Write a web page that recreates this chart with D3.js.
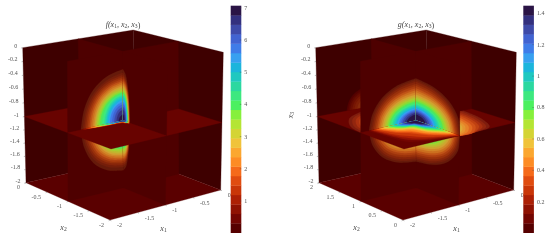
<!DOCTYPE html>
<html>
<head>
<meta charset="utf-8">
<script src="https://cdnjs.cloudflare.com/ajax/libs/d3/7.8.5/d3.min.js"></script>
<style>
  html, body { margin: 0; background: #fff; }
  svg { display: block; font-family: "Liberation Serif", serif; }
</style>
</head>
<body>
<div id="chart"></div>
<script>
// colour bands, bottom to top of the bar
var bandColors = ["#560000","#730602","#8f1203","#ad2005","#c93608","#e04c10","#f56a1a","#fd8c25",
  "#fba730","#f0c33a","#d4d435","#b4e534","#86f03c","#4cf060","#3de87f","#2bd8a0",
  "#1fc8c0","#1cb5dc","#38a0f0","#3f7ce8","#4163d1","#3e4aa8","#33307e","#2a1445"];

var f_ticks = [1,2,3,4,5,6,7];
var g_ticks = [0.2,0.4,0.6,0.8,1,1.2,1.4];
var x1_ticks = [-2,-1.5,-1,-0.5,0];
var x2_ticks_f = [0,-0.5,-1,-1.5,-2];
var x2_ticks_g = [2,1.5,1,0.5,0];
var x3_ticks = [0,-0.2,-0.4,-0.6,-0.8,-1,-1.2,-1.4,-1.6,-1.8,-2];

// contour extents per band (outer to inner), in data units from the slice centre
var f_side   = [.76,.73,.70,.67,.64,.61,.58,.55,.52,.50,.48,.45,.42,.38,.34,.31,.29,.26,.24,.20,.16,.12,.08];
var f_height = [.74,.69,.66,.63,.605,.58,.555,.53,.505,.48,.455,.43,.41,.39,.37,.35,.325,.30,.27,.24,.20,.16,.09];
var f_right  = [.15,.148,.146,.144,.142,.14,.135,.13,.125,.12,.115,.11,.105,.1,.095,.09,.085,.08,.075,.07,.06,.05,.03];
var f_diag   = [.09,.08,.07,.06,.05,.04,.035,.03,.025,.02,.018,.016,.014,.012,.01,.009,.008,.007,.006,.005,.004,.003,.002];

var g_side   = [.85,.82,.79,.76,.73,.70,.67,.64,.61,.58,.55,.52,.49,.46,.43,.40,.37,.34,.31,.28,.25,.21,.17];
var g_height = [.61,.585,.56,.53,.50,.47,.44,.41,.38,.355,.33,.305,.28,.255,.235,.215,.195,.18,.165,.15,.135,.115,.09];
var g_right  = [1.05,1.02,.99,.96,.93,.90,.87,.84,.80,.76,.72,.68,.63,.58,.54,.50,.46,.42,.39,.35,.31,.26,.21];
var g_diag   = [.75,.68,.62,.55,.45,.41,.37,.32,.29,.27,.25,.23,.21,.19,.17,.16,.15,.14,.13,.12,.11,.095,.08];
var g_lobe_left_a  = [1,.95,.9,.85,.8,.7,.6,.5,.42,.38,.35,.32,.3,.28,.26,.24,.22,.2,.18,.16,.14,.12,.1];
var g_lobe_left_b  = [.9,.85,.8,.75,.7,.6,.5,.42,.38,.35,.32,.3,.28,.26,.24,.22,.2,.18,.16,.14,.12,.11,.1];
var g_lobe_right_a = [.85,.8,.75,.7,.65,.6,.55,.5,.46,.42,.38,.35,.32,.3,.28,.26,.24,.22,.2,.18,.16,.13,.1];
var g_lobe_right_b = [1.3,1.25,1.2,1.15,1.1,1.05,1,.95,.9,.85,.8,.75,.7,.65,.6,.55,.5,.45,.4,.35,.3,.25,.19];
var g_wall_side   = [.47,.44,.41,.37,.33,.28];
var g_wall_height = [.32,.29,.26,.23,.20,.16];

// quarter outline used for each contour band
var unitArc = [[1,0],[.92,.38],[.71,.71],[.38,.92],[0,1]];

// screen position of the eight cube corners [x1 end, x2 end, x3 end]
var cubeCorners = {
  "000":[110,220], "100":[220.7,190], "010":[26,182.7], "110":[137,158],
  "001":[112,75],  "101":[223.3,52.3],"011":[22.7,47.7],"111":[133.3,30]
};

var svg = d3.select("#chart").append("svg")
    .attr("width",550)
    .attr("height",240)
    .style("filter","blur(0.35px)");

var tickColor = "#555";
var arcLine = d3.line().curve(d3.curveCatmullRom);
// the vertical slices read darker and browner in the low bands
function tone(c, i) {
  return d3.interpolateRgb(c,"#5a2a10")(Math.max(0,(1-(i+1)/14)*.6));
}
function lobeTone(c) { return d3.interpolateRgb(c,"#a06030")(.25); }

function mathLabel(g, x, y, head, subs, tail, size) {
  // italic name with subscript digits
  var t = g.append("text").attr("x",x).attr("y",y)
    .attr("text-anchor","middle").attr("fill","#444")
    .style("font-size",size+"px").style("font-style","italic");
  t.append("tspan").text(head);
  subs.forEach(function(s,i) {
    t.append("tspan").text("x");
    t.append("tspan").attr("dy",1.3).style("font-size",(size*0.7)+"px").style("font-style","normal").text(s);
    t.append("tspan").attr("dy",-1.3).text(i < subs.length-1 ? ", " : "");
  });
  t.append("tspan").style("font-style","normal").text(tail);
  return t;
}

function drawCube(dx, p) {
  var g = svg.append("g").attr("transform","translate("+dx+",0)");
  var x1 = d3.scaleLinear().domain([-2,0]).range([0,1]).clamp(true);
  var x2 = d3.scaleLinear().domain(p.x2Range).range([0,1]).clamp(true);
  var x3 = d3.scaleLinear().domain([-2,-1,0]).range([0,.49,1]).clamp(true);
  var front = p.x2Range[0], back = p.x2Range[1], mid = (front+back)/2;

  function P(a,b,c) {
    var u = x1(a), v = x2(b), w = x3(c), x = 0, y = 0;
    [0,1].forEach(function(i){ [0,1].forEach(function(j){ [0,1].forEach(function(k){
      var m = (i?u:1-u)*(j?v:1-v)*(k?w:1-w), q = cubeCorners[""+i+j+k];
      x += m*q[0]; y += m*q[1];
    }); }); });
    return [x,y];
  }
  function face(pts, fill) {
    g.append("path").attr("d","M"+pts.map(function(q){return P(q[0],q[1],q[2]);}).join("L")+"Z")
      .attr("fill",fill).attr("stroke",fill).attr("stroke-width",.3);
  }
  function bands(a, b, toPoint, paint) {
    a.forEach(function(ai,i) {
      var pts = unitArc.map(function(q){ return toPoint(ai*q[0], b[i]*q[1]); });
      var c = paint(bandColors[i+1], i);
      g.append("path").attr("d",arcLine(pts)+"L"+toPoint(0,0)+"Z")
        .attr("fill",c).attr("stroke",c).attr("stroke-width",.2);
    });
  }

  var wall = "#3e0000", slab = "#4e0000", floor = "#5a0000", plane = "#680300";

  // back walls and floor
  face([[-2,back,-2],[0,back,-2],[0,back,0],[-2,back,0]], wall);
  face([[0,back,-2],[0,front,-2],[0,front,0],[0,back,0]], wall);
  if (p.wallSide) {
    bands(p.wallSide, p.wallHeight, function(a,b){ return P(-1-a,back,-1+b); },
      function(c){ return d3.interpolateRgb(c,wall)(.6); });
  }
  face([[-2,front,-2],[0,front,-2],[0,back,-2],[-2,back,-2]], floor);

  // slices behind the cut corner
  face([[-1,mid,-2],[-1,back,-2],[-1,back,0],[-1,mid,0]], slab);
  face([[-1,mid,-2],[0,mid,-2],[0,mid,0],[-1,mid,0]], slab);

  // x3 slice, side quadrants
  face([[-2,mid,-1],[-1,mid,-1],[-1,back,-1],[-2,back,-1]], plane);
  face([[-1,front,-1],[0,front,-1],[0,mid,-1],[-1,mid,-1]], plane);
  if (p.lobeLeftA) {
    bands(p.lobeLeftA, p.lobeLeftB, function(a,b){ return P(-1-a,mid+b,-1); }, lobeTone);
    bands(p.lobeRightA, p.lobeRightB, function(a,b){ return P(-1+a,mid-b,-1); }, lobeTone);
  }

  // front faces of the cut corner, lower then upper
  [-1,1].forEach(function(sign) {
    face([[-2,mid,-1],[-1,mid,-1],[-1,mid,-1+sign],[-2,mid,-1+sign]], slab);
    face([[-1,front,-1],[-1,mid,-1],[-1,mid,-1+sign],[-1,front,-1+sign]], slab);
    bands(p.side, p.height, function(a,b){ return P(-1-a,mid,-1+sign*b); }, tone);
    bands(p.right, p.height, function(a,b){ return P(-1,mid-a,-1+sign*b); }, tone);
  });

  // x3 slice, front quadrant
  face([[-2,front,-1],[-1,front,-1],[-1,mid,-1],[-2,mid,-1]], plane);
  p.side.forEach(function(a,i) {
    var b = p.right[i], d = p.diag[i];
    var pts = [[a,0],[(a+d)/2,.7*d],[d,d],[.7*d,(b+d)/2],[0,b]].map(function(q){ return P(-1-q[0],mid-q[1],-1); });
    g.append("path").attr("d",arcLine(pts)+"L"+P(-1,mid,-1)+"Z")
      .attr("fill",bandColors[i+1]).attr("stroke",bandColors[i+1]).attr("stroke-width",.2);
  });

  // ticks
  function tickText(sel, fmt) {
    sel.attr("fill",tickColor).style("font-size","6px").text(fmt);
  }
  x3_ticks.forEach(function(v) {
    var q = P(-2,back,v);
    g.append("line").attr("x1",q[0]-1.5).attr("y1",q[1]+.3).attr("x2",q[0]).attr("y2",q[1]).attr("stroke",tickColor).attr("stroke-width",.4);
    tickText(g.append("text").attr("x",q[0]-5.5).attr("y",q[1]).attr("text-anchor","end"), v);
  });
  p.x2Ticks.forEach(function(v) {
    var q = P(-2,v,-2);
    g.append("line").attr("x1",q[0]).attr("y1",q[1]).attr("x2",q[0]-1.3).attr("y2",q[1]+.8).attr("stroke",tickColor).attr("stroke-width",.4);
    tickText(g.append("text").attr("x",q[0]-6).attr("y",q[1]+6.5).attr("text-anchor","end"), v);
  });
  x1_ticks.forEach(function(v) {
    var q = P(v,front,-2);
    g.append("line").attr("x1",q[0]).attr("y1",q[1]).attr("x2",q[0]+1.3).attr("y2",q[1]+.8).attr("stroke",tickColor).attr("stroke-width",.4);
    tickText(g.append("text").attr("x",q[0]+7).attr("y",q[1]+7).attr("text-anchor","start"), v);
  });

  // axis names
  mathLabel(g,163.5,231,"",["1"],"",8);
  mathLabel(g,63.5,229.5,"",["2"],"",8);
  mathLabel(g,123,27,p.title,["1","2","3"],")",8);
  if (p.showX3) {
    mathLabel(g,0,0,"",["3"],"",8).attr("transform","translate(-0.5,115) rotate(-90)");
  }

  // colour bar
  var bar = d3.scaleLinear().domain([0,p.barMax]).range([232.7,5.7]);
  var step = p.barMax/bandColors.length;
  var cb = svg.append("g").attr("transform","translate("+p.barX+",0)");
  cb.selectAll("rect").data(bandColors).enter().append("rect")
    .attr("x",0).attr("width",10.6)
    .attr("y",function(d,i){ return bar((i+1)*step); })
    .attr("height",function(d,i){ return bar(i*step)-bar((i+1)*step)+.3; })
    .attr("fill",function(d){ return d; });
  var ax = cb.append("g").attr("transform","translate(10.6,0)")
    .call(d3.axisRight(bar).tickValues(p.barTicks).tickSize(-1.5).tickPadding(3).tickFormat(function(d){return d;}));
  ax.select(".domain").remove();
  ax.selectAll("line").attr("stroke","#444").attr("stroke-width",.4);
  ax.selectAll("text").attr("fill",tickColor).style("font-size","6px").style("font-family","Liberation Serif");
}

drawCube(0, {
  x2Range:[-2,0], x2Ticks:x2_ticks_f, title:"f(",
  side:f_side, height:f_height, right:f_right, diag:f_diag,
  barMax:7.05, barTicks:f_ticks, barX:230.7
});
drawCube(293, {
  x2Range:[0,2], x2Ticks:x2_ticks_g, title:"g(", showX3:true,
  side:g_side, height:g_height, right:g_right, diag:g_diag,
  lobeLeftA:g_lobe_left_a, lobeLeftB:g_lobe_left_b,
  lobeRightA:g_lobe_right_a, lobeRightB:g_lobe_right_b,
  wallSide:g_wall_side, wallHeight:g_wall_height,
  barMax:1.445, barTicks:g_ticks, barX:523.3
});
</script>
</body>
</html>
